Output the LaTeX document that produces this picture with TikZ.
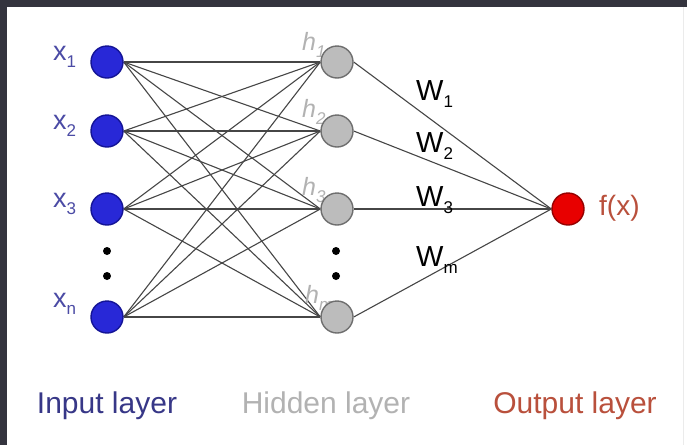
\documentclass[tikz,border=0pt]{standalone}
\usepackage{fontspec}
\setmainfont{Liberation Sans}
\usetikzlibrary{backgrounds}
\definecolor{inblue}{RGB}{40,40,215}
\definecolor{inblueb}{RGB}{20,20,150}
\definecolor{inlab}{RGB}{75,75,165}
\definecolor{intext}{RGB}{55,55,135}
\definecolor{hidfill}{RGB}{188,188,188}
\definecolor{hidb}{RGB}{110,110,110}
\definecolor{hidtext}{RGB}{178,178,178}
\definecolor{outred}{RGB}{232,0,0}
\definecolor{outredb}{RGB}{150,0,0}
\definecolor{outtext}{RGB}{185,80,60}
\definecolor{frame}{RGB}{52,52,62}
\definecolor{linec}{RGB}{70,70,70}
\newcommand\lowsub[1]{\raisebox{-7pt}{\fontsize{17}{17}\selectfont #1}}
\tikzset{
  neuron/.style={circle, minimum size=32pt, inner sep=0pt, line width=1.4pt},
  inneuron/.style={neuron, fill=inblue, draw=inblueb},
  hidneuron/.style={neuron, fill=hidfill, draw=hidb},
  outneuron/.style={neuron, fill=outred, draw=outredb},
  conn/.style={draw=linec, line width=1.1pt},
  ellip/.style={circle, fill=black, minimum size=8pt, inner sep=0pt},
  xlab/.style={anchor=base west, inner sep=0pt, text=inlab, font=\fontsize{27}{27}\selectfont},
  hlab/.style={anchor=base west, inner sep=0pt, text=hidtext, font=\fontsize{25}{25}\selectfont\itshape},
  wlab/.style={anchor=base west, inner sep=0pt, text=black, font=\fontsize{29}{29}\selectfont},
  laylab/.style={anchor=base, inner sep=0pt, font=\fontsize{30}{30}\selectfont}
}
\begin{document}
\begin{tikzpicture}[x=1pt, y=-1pt]
\useasboundingbox (0,0) rectangle (687,445);

% hidden labels (under the nodes)
\node[hlab] (lh1) at (302,50) {h\lowsub{1}};
\node[hlab] (lh2) at (302,117) {h\lowsub{2}};
\node[hlab] (lh3) at (302,195) {h\lowsub{3}};
\node[hlab] (lhm) at (305,303) {h\lowsub{m}};

% input layer
\node[inneuron] (x1) at (107,62) {};
\node[inneuron] (x2) at (107,131) {};
\node[inneuron] (x3) at (107,209) {};
\node[inneuron] (xn) at (107,317) {};
\node[ellip] (di1) at (107,251) {};
\node[ellip] (di2) at (107,276) {};

% hidden layer
\node[hidneuron] (h1) at (337,62) {};
\node[hidneuron] (h2) at (337,131) {};
\node[hidneuron] (h3) at (337,209) {};
\node[hidneuron] (hm) at (337,317) {};
\node[ellip] (dh1) at (336,251) {};
\node[ellip] (dh2) at (336,276) {};

% output
\node[outneuron] (out) at (568,209) {};

% input labels
\node[xlab] (lx1) at (53,60) {x\lowsub{1}};
\node[xlab] (lx2) at (53,129) {x\lowsub{2}};
\node[xlab] (lx3) at (53,207) {x\lowsub{3}};
\node[xlab] (lxn) at (53,307) {x\lowsub{n}};

% weights
\node[wlab] (w1) at (416,100) {W\lowsub{1}};
\node[wlab] (w2) at (416,152) {W\lowsub{2}};
\node[wlab] (w3) at (416,206) {W\lowsub{3}};
\node[wlab] (wm) at (416,266) {W\lowsub{m}};

\node[anchor=base west, inner sep=0pt, text=outtext, font=\fontsize{28}{28}\selectfont] (fx) at (599,215) {f(x)};

% layer titles
\node[laylab, text=intext] (tin) at (107,413) {Input layer};
\node[laylab, text=hidtext] (thid) at (326,413) {Hidden layer};
\node[laylab, text=outtext] (tout) at (575,413) {Output layer};

\begin{scope}[on background layer]
\fill[white] (0,0) rectangle (687,445);
\fill[frame] (0,0) rectangle (687,7);
\fill[frame] (0,0) rectangle (7,445);
\draw[black!8, line width=1pt] (683,7) -- (683,445);
\foreach \i in {x1,x2,x3,xn}{
  \foreach \h in {h1,h2,h3,hm}{
    \draw[conn] (\i.east) -- (\h.west);
  }
}
\foreach \h in {h1,h2,h3,hm}{
  \draw[conn] (\h.east) -- (out.west);
}
\end{scope}
\end{tikzpicture}
\end{document}
